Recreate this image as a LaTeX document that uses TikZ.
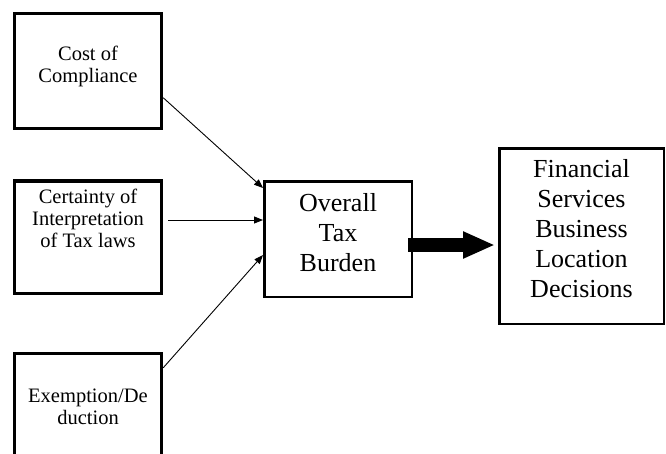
\documentclass[tikz,border=0pt]{standalone}
\usepackage{fontspec}
\setmainfont{Liberation Serif}
\usepackage{tikz}
\usetikzlibrary{positioning,calc,arrows.meta}
\tikzset{
    smallbox/.style={draw, line width=3.5pt, minimum width=147pt, minimum height=115pt, inner sep=0pt},
    bigbox/.style={draw, line width=2.5pt, inner sep=0pt},
    smalltxt/.style={align=center, inner sep=0pt, font=\fontsize{20.5}{22}\selectfont},
    bigtxt/.style={align=center, inner sep=0pt, font=\fontsize{26}{30}\selectfont},
    thin arrow/.style={-{Triangle[length=9pt,width=7pt]}, line width=0.9pt},
    fat arrow/.style={-{Triangle[length=32pt,width=25pt]}, line width=14pt}
}

\begin{document}
\begin{tikzpicture}[x=1pt, y=-1pt]
    \clip (0,0) rectangle (666,453);

    % Factors
    \node[smallbox] (cost) at (88,71) {};
    \node[smalltxt] (costtxt) at ([yshift=5pt]cost.center) {Cost of\\Compliance};
    \node[smallbox, minimum height=112.5pt] (cert) at (88,237) {};
    \node[smalltxt] (certtxt) at ([yshift=19pt]cert.center) {Certainty of\\Interpretation\\of Tax laws};
    \node[smallbox] (exem) at (88,411) {};
    \node[smalltxt] (exemtxt) at ([yshift=4pt]exem.center) {Exemption/De\\duction};

    % Tax burden and outcome
    \node[bigbox, minimum width=147.5pt, minimum height=115.5pt] (burden) at (338,239) {};
    \node[bigtxt] (burdentxt) at ([yshift=6pt]burden.center) {Overall\\Tax\\Burden};
    \node[bigbox, minimum width=164.5pt, minimum height=175.5pt] (fin) at (581.5,236) {};
    \node[bigtxt] (fintxt) at ([yshift=7pt]fin.center) {Financial\\Services\\Business\\Location\\Decisions};

    % Arrows
    \draw[thin arrow] ([yshift=-86pt]cost.north east) -- ([yshift=51pt]burden.west);
    \draw[thin arrow, shorten <=5pt] ([yshift=17pt]cert.east) -- ([yshift=19pt]burden.west);
    \draw[thin arrow] ([yshift=-16pt]exem.north east) -- ([yshift=-16pt]burden.west);
    \draw[fat arrow, shorten >=3pt] ([xshift=-5pt,yshift=-6pt]burden.east) -- ([yshift=-9pt]fin.west);
\end{tikzpicture}
\end{document}
